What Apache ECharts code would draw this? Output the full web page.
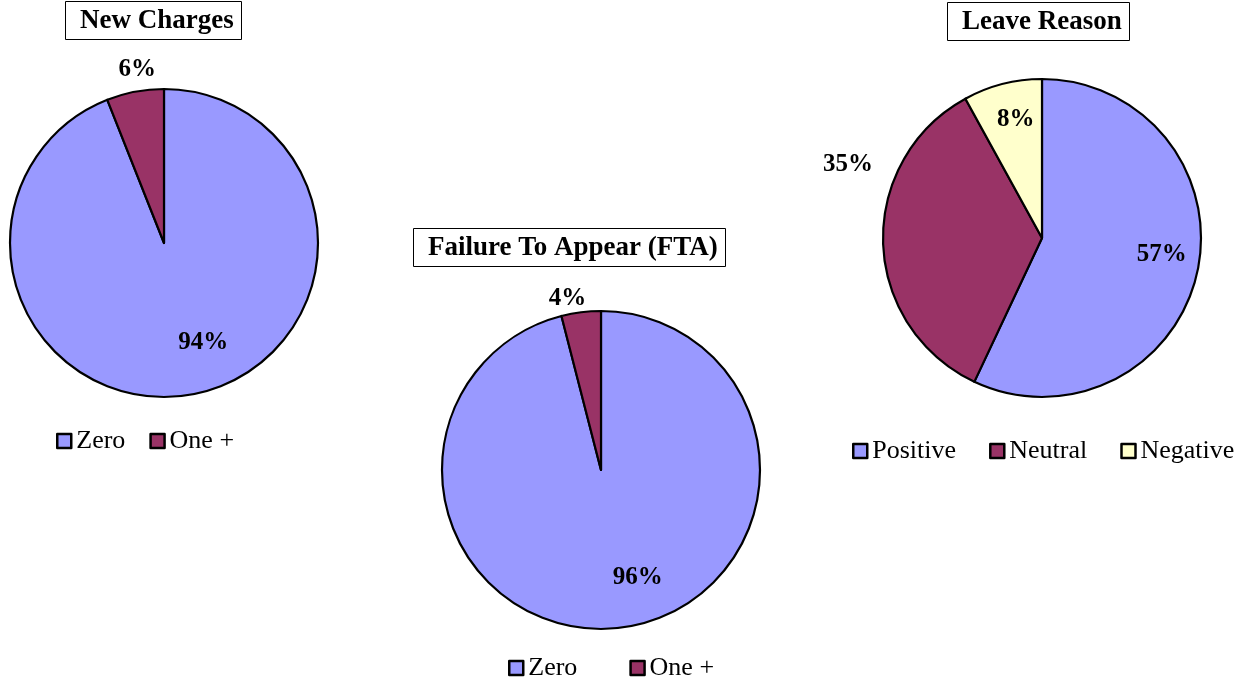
<!DOCTYPE html>
<html>
<head>
<meta charset="utf-8">
<script src="https://cdn.jsdelivr.net/npm/echarts@6/dist/echarts.min.js"></script>
<style>
  html, body { margin: 0; padding: 0; background: #fff; }
  #main { width: 1247px; height: 684px; }
</style>
</head>
<body>
<div id="main"></div>
<script>
// data
var chargeNames = ['Zero', 'One +'];
var newChargeValues = [94, 6];
var ftaValues = [96, 4];
var reasonNames = ['Positive', 'Neutral', 'Negative'];
var reasonValues = [57, 35, 8];

var FONT = "'Liberation Serif', 'Times New Roman', serif";
var colors = { 'Zero': '#9999FF', 'One +': '#993366', 'Positive': '#9999FF', 'Neutral': '#993366', 'Negative': '#FFFFCC' };

var myChart = echarts.init(document.getElementById('main'));

var labelText = {
    show: true,
    position: 'inside',
    formatter: '{c}%',
    fontFamily: FONT,
    fontSize: 25,
    fontWeight: 'bold',
    color: '#000'
};

// main pie + two transparent rings which only carry the labels
// (inside ring -> label at ~0.72r, outer ring -> label just outside the pie)
function makePie(names, values, center, r, outside, offsets) {
    var main = {
        type: 'pie',
        center: center,
        radius: [0, r],
        startAngle: 90,
        clockwise: true,
        silent: true,
        label: { show: false },
        labelLine: { show: false },
        itemStyle: { borderColor: '#000', borderWidth: 2.2 },
        data: names.map(function (n, i) {
            return { name: n, value: values[i], itemStyle: { color: colors[n] } };
        })
    };
    function ring(radius, isOut) {
        return {
            type: 'pie',
            center: center,
            radius: radius,
            startAngle: 90,
            clockwise: true,
            silent: true,
            avoidLabelOverlap: false,
            labelLine: { show: false },
            itemStyle: { color: 'rgba(0,0,0,0)', borderWidth: 0 },
            data: names.map(function (n, i) {
                var show = (outside.indexOf(n) >= 0) === isOut;
                var lb = Object.assign({}, labelText, { show: show });
                if (offsets && offsets[n]) lb.offset = offsets[n];
                return { name: n, value: values[i], label: lb };
            })
        };
    }
    return [main, ring([r * 0.44, r], false), ring([r + 8, r + 28], true)];
}

var series = [].concat(
    makePie(chargeNames, newChargeValues, [164, 243], 154, ['One +'], { 'Zero': [18, -12], 'One +': [6, -2] }),
    makePie(chargeNames, ftaValues, [601, 470], 159, ['One +'], { 'Zero': [22, -9], 'One +': [-11, 7] }),
    makePie(reasonNames, reasonValues, [1042, 238], 159, ['Neutral'],
        { 'Positive': [5, -9], 'Neutral': [-14, -79], 'Negative': [3, -5] })
);

var titleStyle = { fontFamily: FONT, fontSize: 27, fontWeight: 'bold', color: '#000', lineHeight: 29 };
function makeTitle(text, left, top) {
    return {
        text: text, left: left, top: top,
        borderColor: '#000', borderWidth: 1,
        padding: [6, 8, 4, 15],
        backgroundColor: '#fff',
        textStyle: titleStyle
    };
}

function makeLegend(names, left, top, gap) {
    return {
        data: names, left: left, top: top, orient: 'horizontal',
        padding: 0,
        itemGap: gap, itemWidth: 14, itemHeight: 14, icon: 'rect',
        selectedMode: false,
        itemStyle: { borderColor: '#000', borderWidth: 2.5 },
        textStyle: { fontFamily: FONT, fontSize: 26, color: '#000', lineHeight: 26, padding: [0, 0, 0, 0] }
    };
}

var option = {
    backgroundColor: '#fff',
    animation: false,
    title: [
        makeTitle('New Charges', 65, 1),
        makeTitle('Failure To Appear (FTA)', 413, 228),
        makeTitle('Leave Reason', 947, 2)
    ],
    legend: [
        makeLegend(chargeNames, 56, 428, 24),
        makeLegend(chargeNames, 508, 655, 52),
        makeLegend(reasonNames, 852, 438, 33)
    ],
    series: series
};

myChart.setOption(option);
</script>
</body>
</html>
